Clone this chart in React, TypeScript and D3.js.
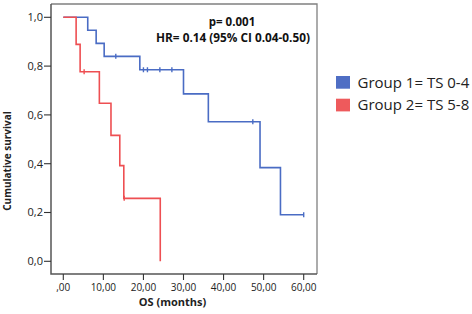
import React from "react";
import * as d3 from "d3";

const xTicks = [0, 10, 20, 30, 40, 50, 60];
const xTickLabels = [",00", "10,00", "20,00", "30,00", "40,00", "50,00", "60,00"];
const yTicks = [0, 0.2, 0.4, 0.6, 0.8, 1.0];
const yTickLabels = ["0,0", "0,2", "0,4", "0,6", "0,8", "1,0"];

const group1Times = [0, 6.1, 8.2, 10.2, 19.1, 30.0, 36.2, 49.1, 54.2];
const group1Surv = [1, 0.947, 0.893, 0.84, 0.785, 0.686, 0.572, 0.384, 0.191];
const group1End = 60;
const group1Censor = [13.1, 20.0, 21.0, 24.1, 27.1, 47.3, 60.0];

const group2Times = [0, 3.2, 4.2, 9.0, 11.9, 14.1, 15.1, 24.2];
const group2Surv = [1, 0.889, 0.777, 0.648, 0.516, 0.392, 0.258, 0];
const group2End = 24.2;
const group2Censor = [5.2, 15.2];

const seriesNames = ["Group 1= TS 0-4", "Group 2= TS 5-8"];
const seriesColors = ["#4a6cc4", "#ee4f52"];
const legendColors = ["#4f6ec4", "#ee5a5c"];

const W = 472, H = 314;
const FONT = "'Open Sans', sans-serif";

function stepPoints(times: number[], surv: number[], end: number): [number, number][] {
  const pts: [number, number][] = [];
  for (let i = 0; i < times.length; i++) {
    if (i > 0) pts.push([times[i], surv[i - 1]]);
    pts.push([times[i], surv[i]]);
  }
  const last = surv[surv.length - 1];
  if (end > times[times.length - 1]) pts.push([end, last]);
  return pts;
}

function survAt(times: number[], surv: number[], t: number) {
  let s = surv[0];
  for (let i = 0; i < times.length; i++) if (times[i] <= t) s = surv[i];
  return s;
}

export default function App() {
  const x = d3.scaleLinear().domain([0, 60]).range([63.3, 303.7]);
  const y = d3.scaleLinear().domain([0, 1]).range([261.3, 17.3]);
  const frame = { l: 51, r: 317, t: 4, b: 274 };
  const line = d3.line<[number, number]>().x(d => x(d[0])).y(d => y(d[1]));

  const series = [
    { times: group1Times, surv: group1Surv, end: group1End, censor: group1Censor },
    { times: group2Times, surv: group2Surv, end: group2End, censor: group2Censor },
  ];

  const framePath = `M${frame.l},${frame.t}H${frame.r}V${frame.b}`;
  const axisPath = `M${frame.l},${frame.t}V${frame.b}H${frame.r}`;

  return (
    <svg width={W} height={H} style={{ position: "fixed", left: 0, top: 0, background: "#fff" }} fontFamily={FONT}>
      <rect x={0} y={0} width={W} height={H} fill="#fff" />
      <path d={framePath} fill="none" stroke="#808080" strokeWidth={1.3} />
      <path d={axisPath} fill="none" stroke="#555555" strokeWidth={1.5} />
      {yTicks.map((v, i) => (
        <g key={"y" + i}>
          <line x1={frame.l - 7} x2={frame.l} y1={y(v)} y2={y(v)} stroke="#333" strokeWidth={1.1} />
          <text x={frame.l - 8} y={y(v)} dy="0.35em" textAnchor="end" fontSize={11} fill="#222">{yTickLabels[i]}</text>
        </g>
      ))}
      {xTicks.map((v, i) => (
        <g key={"x" + i}>
          <line x1={x(v)} x2={x(v)} y1={frame.b} y2={frame.b + 6} stroke="#333" strokeWidth={1.1} />
          <text x={x(v)} y={291} textAnchor="middle" fontSize={10} fill="#222">{xTickLabels[i]}</text>
        </g>
      ))}
      <text x={172.5} y={306} textAnchor="middle" fontSize={11} fontWeight="bold" fill="#222">OS (months)</text>
      <text transform={`translate(11,161) rotate(-90)`} textAnchor="middle" fontSize={10} fontWeight="bold" fill="#222">Cumulative survival</text>

      {series.map((s, i) => (
        <g key={"s" + i}>
          <path d={line(stepPoints(s.times, s.surv, s.end)) || ""} fill="none" stroke={seriesColors[i]} strokeWidth={1.6} />
          {s.censor.map((c, j) => {
            const sv = survAt(s.times, s.surv, c);
            return <line key={j} x1={x(c)} x2={x(c)} y1={y(sv) - 2.5} y2={y(sv) + 2.5} stroke={seriesColors[i]} strokeWidth={1.4} />;
          })}
        </g>
      ))}

      <text x={232} y={26} textAnchor="middle" fontSize={11.5} fontWeight="bold" fill="#111">p= 0.001</text>
      <text x={233} y={42} textAnchor="middle" fontSize={11.8} fontWeight="bold" fill="#111">HR= 0.14 (95% CI 0.04-0.50)</text>

      {seriesNames.map((n, i) => (
        <g key={"l" + i}>
          <rect x={336} y={76 + i * 22.7} width={14} height={12.7} fill={legendColors[i]} />
          <text x={357.5} y={87.5 + i * 22.7} fontSize={15} fill="#222">{n}</text>
        </g>
      ))}
    </svg>
  );
}
